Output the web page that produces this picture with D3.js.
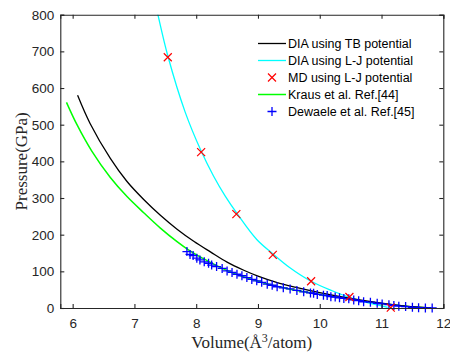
<!DOCTYPE html>
<html>
<head>
<meta charset="utf-8">
<script src="https://cdn.jsdelivr.net/npm/d3@7"></script>
<style>
  body { margin: 0; background: #fff; }
  svg { display: block; }
</style>
</head>
<body>
<svg id="chart"></svg>
<script>
// values
const xTicks = [6, 7, 8, 9, 10, 11, 12];
const yTicks = [0, 100, 200, 300, 400, 500, 600, 700, 800];

const tbVolume = [6.08, 6.28, 6.61, 6.88, 7.15, 7.42, 7.69, 7.96, 8.23, 8.50, 8.77, 9.0, 9.3, 9.6, 10.0, 10.5, 11.0, 11.4, 11.8];
const tbPressure = [580, 504, 408, 345, 296, 253, 215, 182, 153, 125, 103, 87, 70, 57, 42, 26, 13, 5, 0];

const ljVolume = [7.30, 7.38, 7.54, 7.82, 8.08, 8.28, 8.47, 8.66, 8.98, 9.24, 9.5, 9.86, 10.2, 10.48, 10.8, 11.1];
const ljPressure = [860, 800, 688, 535, 428, 360, 305, 258, 187, 148, 112, 73, 47, 29, 13, 2];

const mdVolume = [7.54, 8.08, 8.65, 9.24, 9.86, 10.48, 11.15];
const mdPressure = [684, 425, 256, 145, 73, 30, 1];

const krausVolume = [5.90, 6.07, 6.31, 6.61, 6.88, 7.15, 7.42, 7.69, 7.88, 8.1, 8.5, 9.0, 9.5, 10.0, 10.5, 11.0, 11.5, 11.8];
const krausPressure = [561, 500, 428, 356, 304, 260, 218, 181, 158, 136, 102, 73, 52, 37, 24, 12, 3, 0];

const dewaeleVolume = [7.85, 7.90, 7.95, 8.01, 8.06, 8.13, 8.20, 8.25, 8.33, 8.42, 8.50, 8.58, 8.66, 8.74, 8.82, 8.90, 8.98, 9.06, 9.15, 9.23, 9.31, 9.41, 9.52, 9.63, 9.74, 9.85, 9.90, 9.96, 10.06, 10.12, 10.18, 10.25, 10.32, 10.39, 10.47, 10.55, 10.63, 10.71, 10.82, 10.93, 11.01, 11.12, 11.20, 11.28, 11.39, 11.50, 11.60, 11.71, 11.82];
const dewaelePressure = [154, 146, 143, 136, 131, 126, 122, 117, 113, 108, 101, 97, 92, 88, 83, 78, 74, 70, 65, 62, 58, 55, 52, 48, 44, 41, 40, 37, 35, 34, 31, 30, 28, 26, 25, 22, 20, 17, 16, 13, 11, 9, 7, 5, 4, 2, 1, 0, 0];

const legendLabels = ['DIA using TB potential', 'DIA using L-J potential', 'MD using L-J potential', 'Kraus et al. Ref.[44]', 'Dewaele et al. Ref.[45]'];

const width = 450, height = 354;
const margin = { top: 14.7, right: 6.7, bottom: 46, left: 60.3 };
const axisColor = '#262626';

const svg = d3.select('#chart')
  .attr('width', width)
  .attr('height', height);

const x = d3.scaleLinear().domain([5.8, 12]).range([margin.left, width - margin.right]);
const y = d3.scaleLinear().domain([0, 800]).range([height - margin.bottom, margin.top]);

svg.append('defs').append('clipPath').attr('id', 'plot-clip')
  .append('rect')
  .attr('x', margin.left).attr('y', margin.top)
  .attr('width', x.range()[1] - margin.left)
  .attr('height', y.range()[0] - margin.top);

const zip = (xs, ys) => xs.map((v, i) => [v, ys[i]]);

const line = d3.line()
  .x(d => x(d[0]))
  .y(d => y(d[1]))
  .curve(d3.curveCatmullRom.alpha(0.5));

const curves = svg.append('g').attr('clip-path', 'url(#plot-clip)');

curves.append('path')
  .datum(zip(krausVolume, krausPressure))
  .attr('d', line)
  .attr('fill', 'none')
  .attr('stroke', '#00ff00')
  .attr('stroke-width', 1.5);

curves.append('path')
  .datum(zip(ljVolume, ljPressure))
  .attr('d', line)
  .attr('fill', 'none')
  .attr('stroke', '#00ffff')
  .attr('stroke-width', 1.3);

curves.append('path')
  .datum(zip(tbVolume, tbPressure))
  .attr('d', line)
  .attr('fill', 'none')
  .attr('stroke', '#000')
  .attr('stroke-width', 1.3);

// marker shapes: "+" for Dewaele, "x" for MD
const plus = (g, cx, cy) => {
  g.append('path')
    .attr('d', `M${cx - 4.5},${cy}H${cx + 4.5}M${cx},${cy - 4.5}V${cy + 4.5}`)
    .attr('stroke', '#0000ff')
    .attr('stroke-width', 1.3)
    .attr('fill', 'none');
};
const cross = (g, cx, cy) => {
  g.append('path')
    .attr('d', `M${cx - 4},${cy - 4}L${cx + 4},${cy + 4}M${cx - 4},${cy + 4}L${cx + 4},${cy - 4}`)
    .attr('stroke', '#ff0000')
    .attr('stroke-width', 1.2)
    .attr('fill', 'none');
};

const marks = svg.append('g');
zip(dewaeleVolume, dewaelePressure).forEach(d => plus(marks, x(d[0]), y(d[1])));
zip(mdVolume, mdPressure).forEach(d => cross(marks, x(d[0]), y(d[1])));

// axes box with inward ticks on all sides
const tickLen = 4;
const axisFont = '"Liberation Sans", Arial, sans-serif';
const fmt = d3.format('d');

const xAxis = svg.append('g')
  .attr('transform', `translate(0,${y(0)})`)
  .call(d3.axisBottom(x).tickValues(xTicks).tickSize(-tickLen).tickPadding(10).tickFormat(fmt));
const xAxisTop = svg.append('g')
  .attr('transform', `translate(0,${y(800)})`)
  .call(d3.axisTop(x).tickValues(xTicks).tickSize(-tickLen).tickFormat(''));
const yAxis = svg.append('g')
  .attr('transform', `translate(${x(5.8)},0)`)
  .call(d3.axisLeft(y).tickValues(yTicks).tickSize(-tickLen).tickPadding(6).tickFormat(fmt));
const yAxisRight = svg.append('g')
  .attr('transform', `translate(${x(12)},0)`)
  .call(d3.axisRight(y).tickValues(yTicks).tickSize(-tickLen).tickFormat(''));

[xAxis, xAxisTop, yAxis, yAxisRight].forEach(a => {
  a.select('.domain').attr('stroke', axisColor).attr('stroke-width', 1.1);
  a.selectAll('.tick line').attr('stroke', axisColor).attr('stroke-width', 1.1);
  a.selectAll('.tick text')
    .attr('fill', axisColor)
    .style('font-family', axisFont)
    .style('font-size', '13.5px');
});

// axis titles
const serif = '"Liberation Serif", "Times New Roman", serif';
const xLabel = svg.append('text')
  .attr('x', (x.range()[0] + x.range()[1]) / 2)
  .attr('y', 348)
  .attr('text-anchor', 'middle')
  .attr('fill', axisColor)
  .style('font-family', serif)
  .style('font-size', '17px');
xLabel.append('tspan').text('Volume(Å');
xLabel.append('tspan').attr('dy', -6).style('font-size', '12px').text('3');
xLabel.append('tspan').attr('dy', 6).text('/atom)');

svg.append('text')
  .attr('transform', `translate(27,${(y.range()[0] + y.range()[1]) / 2}) rotate(-90)`)
  .attr('text-anchor', 'middle')
  .attr('fill', axisColor)
  .style('font-family', serif)
  .style('font-size', '17px')
  .text('Pressure(GPa)');

// legend
const legend = svg.append('g').attr('transform', 'translate(258,43.5)');
const legendKinds = ['line', 'line', 'cross', 'line', 'plus'];
const legendColors = ['#000', '#00ffff', '#ff0000', '#00ff00', '#0000ff'];
legendLabels.forEach((label, i) => {
  const row = legend.append('g').attr('transform', `translate(0,${i * 17})`);
  if (legendKinds[i] === 'line') {
    row.append('line')
      .attr('x1', 0).attr('x2', 28)
      .attr('stroke', legendColors[i])
      .attr('stroke-width', i === 3 ? 1.5 : 1.3);
  } else if (legendKinds[i] === 'cross') {
    cross(row, 14, 0);
  } else {
    plus(row, 14, 0);
  }
  row.append('text')
    .attr('x', 30)
    .attr('dy', '0.35em')
    .attr('fill', '#000')
    .style('font-family', axisFont)
    .style('font-size', '12.5px')
    .text(label);
});
</script>
</body>
</html>
